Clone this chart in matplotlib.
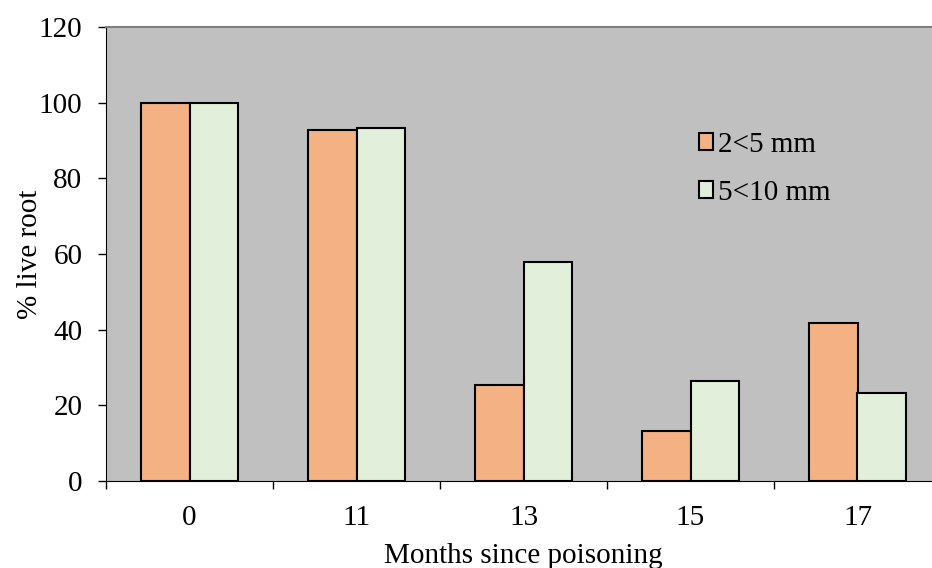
import numpy as np
import matplotlib.pyplot as plt

plt.rcParams["font.family"] = ["Liberation Serif", "DejaVu Serif"]

months = ["0", "11", "13", "15", "17"]
small_roots = [100, 92.8, 25.4, 13.2, 41.8]
large_roots = [100, 93.3, 57.9, 26.4, 23.3]

fig = plt.figure(figsize=(9.32, 5.68), dpi=100)
ax = fig.add_axes([106 / 932, 87 / 568, 835 / 932, 454 / 568])
ax.set_facecolor("#C0C0C0")

x = np.arange(len(months))
w = 0.29
ax.bar(x - w / 2, small_roots, w, color="#F4B183", edgecolor="black",
       linewidth=1.5, label="2<5 mm")
ax.bar(x + w / 2, large_roots, w, color="#E2EFDA", edgecolor="black",
       linewidth=1.5, label="5<10 mm")

ax.set_xlim(-0.5, len(months) - 0.5)
ax.set_ylim(0, 120)
ax.set_yticks(range(0, 121, 20))
ax.set_xticks(x)
ax.set_xticklabels(months)
ax.set_xticks(np.arange(-0.5, len(months)), minor=True)
ax.tick_params(axis="x", which="major", length=0, pad=17, labelsize=21)
ax.tick_params(axis="x", which="minor", length=6, width=1, direction="out")
ax.tick_params(axis="y", length=6, width=1, direction="out", pad=11, labelsize=21)

ax.spines["top"].set_color("#808080")
ax.spines["top"].set_linewidth(1.5)
ax.spines["right"].set_visible(False)
ax.spines["left"].set_color("black")
ax.spines["bottom"].set_color("black")

ax.set_xlabel("Months since poisoning", fontsize=21, labelpad=9)
ax.set_ylabel("% live root", fontsize=21, labelpad=-3)

ax.legend(loc="center left", bbox_to_anchor=(0.71, 0.687), frameon=False,
          fontsize=21, handlelength=0.5, handleheight=0.5, handletextpad=0.15,
          labelspacing=0.75, borderaxespad=0, borderpad=0)

fig.savefig("out.png", dpi=100)
